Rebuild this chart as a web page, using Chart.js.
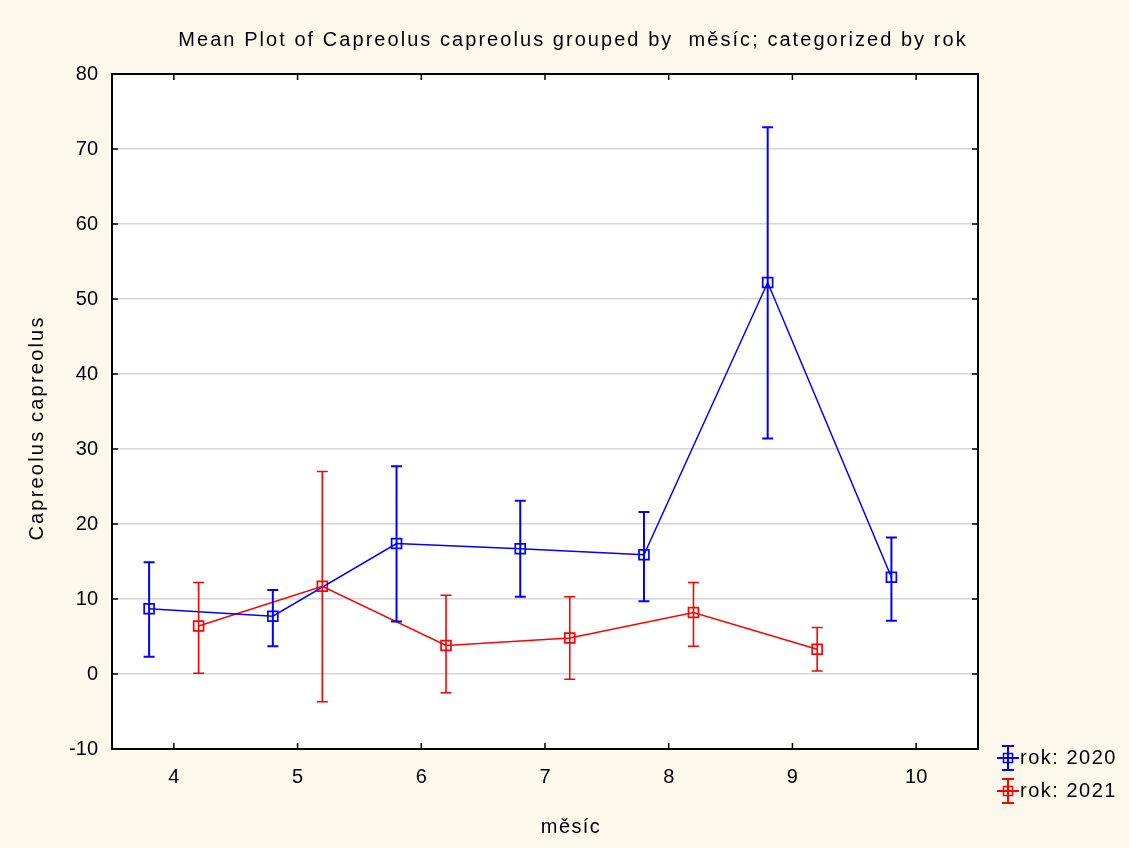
<!DOCTYPE html>
<html>
<head>
<meta charset="utf-8">
<script src="https://cdn.jsdelivr.net/npm/chart.js@4"></script>
<style>
  html, body { margin: 0; padding: 0; background: #fdf8ec; }
  #wrap { width: 1129px; height: 848px; }
</style>
</head>
<body>
<div id="wrap"><canvas id="meanPlot"></canvas></div>
<script>
// ---- DATA ----
const months = [4, 5, 6, 7, 8, 9, 10];
const yTicks = [-10, 0, 10, 20, 30, 40, 50, 60, 70, 80];

const months2020 = [4, 5, 6, 7, 8, 9, 10];
const mean2020 = [8.7, 7.7, 17.4, 16.7, 15.9, 52.2, 12.9];
const upper2020 = [14.9, 11.2, 27.7, 23.1, 21.6, 72.9, 18.2];
const lower2020 = [2.3, 3.7, 7.0, 10.3, 9.7, 31.4, 7.1];

const months2021 = [4, 5, 6, 7, 8, 9];
const mean2021 = [6.4, 11.7, 3.8, 4.8, 8.2, 3.3];
const upper2021 = [12.2, 27.0, 10.5, 10.3, 12.2, 6.2];
const lower2021 = [0.1, -3.7, -2.5, -0.7, 3.7, 0.4];

const FONT = '"Liberation Sans", Arial, sans-serif';
const BLUE = '#0000ff';
const RED = '#ff0000';

function points(ms, vals, shift) {
  return ms.map((m, i) => ({ x: m + shift, y: vals[i] }));
}

const series = [
  { label: 'rok: 2020', color: BLUE, shift: -0.2, ms: months2020, mean: mean2020, hi: upper2020, lo: lower2020, capW: 2 },
  { label: 'rok: 2021', color: RED, shift: 0.2, ms: months2021, mean: mean2021, hi: upper2021, lo: lower2021, capW: 1.6 }
];

// text drawn with spacing stretched to match the wide Statistica look
function wideText(ctx, text, x, y, size, spacing, align) {
  ctx.save();
  ctx.font = size + 'px ' + FONT;
  ctx.letterSpacing = spacing + 'px';
  ctx.fillStyle = '#000';
  ctx.textAlign = align || 'center';
  ctx.textBaseline = 'middle';
  ctx.fillText(text, x, y);
  ctx.restore();
}

// ---- PLUGINS ----
const frame = {
  id: 'frame',
  beforeDraw(chart) {
    const { ctx, chartArea: a } = chart;
    ctx.save();
    ctx.fillStyle = '#fdf8ec';
    ctx.fillRect(0, 0, chart.width, chart.height);
    ctx.fillStyle = '#ffffff';
    ctx.fillRect(a.left, a.top, a.right - a.left, a.bottom - a.top);
    ctx.restore();
  },
  afterDraw(chart) {
    const { ctx, chartArea: a, scales } = chart;
    ctx.save();
    ctx.strokeStyle = '#000';
    ctx.lineWidth = 2;
    ctx.strokeRect(a.left, a.top, a.right - a.left, a.bottom - a.top);
    ctx.lineWidth = 1.5;
    ctx.beginPath();
    yTicks.forEach(v => {
      const y = scales.y.getPixelForValue(v);
      ctx.moveTo(a.left, y); ctx.lineTo(a.left + 6, y);
      ctx.moveTo(a.right, y); ctx.lineTo(a.right - 6, y);
    });
    months.forEach(v => {
      const x = scales.x.getPixelForValue(v);
      ctx.moveTo(x, a.top); ctx.lineTo(x, a.top + 6);
      ctx.moveTo(x, a.bottom); ctx.lineTo(x, a.bottom - 6);
    });
    ctx.stroke();
    ctx.restore();

    // titles
    wideText(ctx, 'Mean Plot of Capreolus capreolus grouped by  měsíc; categorized by rok', 573, 40, 20, 2.05);
    wideText(ctx, 'měsíc', 571, 827, 20, 1.4);
    ctx.save();
    ctx.translate(37, 428);
    ctx.rotate(-Math.PI / 2);
    wideText(ctx, 'Capreolus capreolus', 0, 0, 20, 2.2);
    ctx.restore();

    // legend
    series.forEach((s, i) => {
      const ly = 758 + i * 33;
      const lx = 1008;
      ctx.save();
      ctx.strokeStyle = s.color;
      ctx.lineWidth = 2;
      ctx.beginPath();
      ctx.moveTo(lx, ly - 12); ctx.lineTo(lx, ly + 12);
      ctx.moveTo(lx - 6, ly - 12); ctx.lineTo(lx + 6, ly - 12);
      ctx.moveTo(lx - 6, ly + 12); ctx.lineTo(lx + 6, ly + 12);
      ctx.moveTo(lx - 11, ly); ctx.lineTo(lx + 11, ly);
      ctx.stroke();
      ctx.lineWidth = 1.5;
      ctx.strokeRect(lx - 4.5, ly - 4.5, 9, 9);
      ctx.restore();
      wideText(ctx, s.label, 1020, ly, 20, 1.5, 'left');
    });
  }
};

const errorBars = {
  id: 'errorBars',
  afterDatasetsDraw(chart) {
    const { ctx, scales } = chart;
    series.forEach(s => {
      ctx.save();
      ctx.strokeStyle = s.color;
      ctx.lineWidth = s.capW;
      ctx.beginPath();
      s.ms.forEach((m, i) => {
        const x = scales.x.getPixelForValue(m + s.shift);
        const yTop = scales.y.getPixelForValue(s.hi[i]);
        const yBot = scales.y.getPixelForValue(s.lo[i]);
        ctx.moveTo(x, yTop); ctx.lineTo(x, yBot);
        ctx.moveTo(x - 5.5, yTop); ctx.lineTo(x + 5.5, yTop);
        ctx.moveTo(x - 5.5, yBot); ctx.lineTo(x + 5.5, yBot);
      });
      ctx.stroke();
      ctx.restore();
    });
  }
};

// ---- CHART ----
new Chart(document.getElementById('meanPlot'), {
  type: 'scatter',
  data: {
    datasets: series.map(s => ({
      label: s.label,
      data: points(s.ms, s.mean, s.shift),
      showLine: true,
      borderColor: s.color,
      borderWidth: 1.5,
      pointStyle: 'rect',
      pointRadius: 7,
      pointBorderWidth: 1.7,
      pointBorderColor: s.color,
      pointBackgroundColor: 'rgba(0,0,0,0)',
      tension: 0
    }))
  },
  options: {
    responsive: true,
    maintainAspectRatio: false,
    animation: false,
    layout: { padding: { top: 74, right: 151, left: 0, bottom: 0 } },
    plugins: {
      legend: { display: false },
      tooltip: { enabled: false },
      title: { display: false }
    },
    scales: {
      x: {
        type: 'linear',
        min: 3.5,
        max: 10.5,
        afterBuildTicks: scale => { scale.ticks = months.map(v => ({ value: v })); },
        afterFit: scale => { scale.height = 99; },
        grid: { display: false },
        border: { display: false },
        ticks: { color: '#000', padding: 8, font: { family: FONT, size: 20 } }
      },
      y: {
        min: -10,
        max: 80,
        afterBuildTicks: scale => { scale.ticks = yTicks.map(v => ({ value: v })); },
        afterFit: scale => { scale.width = 112; },
        grid: { color: '#d6d6d6', lineWidth: 1.5, drawTicks: false },
        border: { display: false },
        ticks: { color: '#000', padding: 14, font: { family: FONT, size: 20 } }
      }
    }
  },
  plugins: [frame, errorBars]
});
</script>
</body>
</html>
